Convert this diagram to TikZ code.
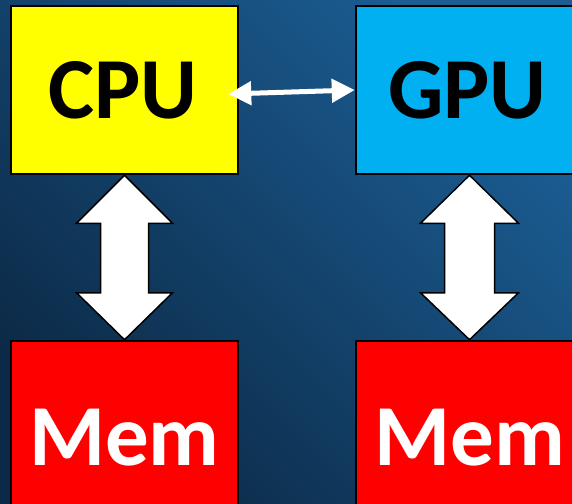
\documentclass[tikz,border=0pt]{standalone}
\usepackage{fontspec}
\setmainfont{Carlito}
\usetikzlibrary{calc,arrows.meta}
\definecolor{cpuyellow}{HTML}{FFFF00}
\definecolor{gpucyan}{HTML}{00B0F0}
\definecolor{memred}{HTML}{FF0000}
\definecolor{bgDark}{HTML}{0C2A47}
\definecolor{bgMid}{HTML}{133E66}
\definecolor{bgLight}{HTML}{1B5D93}
\tikzset{
  unitbox/.style={draw=black, line width=2.5pt, minimum width=227pt, minimum height=168pt, inner sep=0pt},
  bigtext/.style={font=\bfseries\fontsize{87}{90}\selectfont, inner sep=0pt, anchor=base},
  bigarrow/.style={fill=white, draw=black, line width=1.5pt, line join=miter},
  smallarrow/.style={draw=white, line width=5pt, {Triangle[length=23pt,width=23pt]}-{Triangle[length=23pt,width=23pt]}}
}
\begin{document}
\begin{tikzpicture}[x=1pt,y=-1pt]
\useasboundingbox (0,0) rectangle (572,503);
\clip (0,0) rectangle (572,503);
\shade[top color=bgDark, middle color=bgMid, bottom color=bgLight, shading angle=135] (0,0) rectangle (572,503);
\node[unitbox, fill=cpuyellow] (cpu) at (124.5,90) {};
\node[unitbox, fill=gpucyan] (gpu) at (469.5,90) {};
\node[unitbox, fill=memred] (mem1) at (124.5,425) {};
\node[unitbox, fill=memred] (mem2) at (469.5,425) {};
\node[bigtext, text=black] (cputxt) at (123,118) {CPU};
\node[bigtext, text=black] (gputxt) at (467.5,118) {GPU};
\node[bigtext, text=white] (mem1txt) at (124.5,465) {Mem};
\node[bigtext, text=white] (mem2txt) at (470,465) {Mem};
% big double arrows
\draw[bigarrow] (cpu.south) -- ($(cpu.south)+(48,48)$) -- ($(cpu.south)+(24,48)$)
  -- ($(mem1.north)+(24,-47)$) -- ($(mem1.north)+(48,-47)$) -- (mem1.north)
  -- ($(mem1.north)+(-48,-47)$) -- ($(mem1.north)+(-24,-47)$)
  -- ($(cpu.south)+(-24,48)$) -- ($(cpu.south)+(-48,48)$) -- cycle;
\draw[bigarrow] (gpu.south) -- ($(gpu.south)+(49,48)$) -- ($(gpu.south)+(25,48)$)
  -- ($(mem2.north)+(25,-47)$) -- ($(mem2.north)+(49,-47)$) -- (mem2.north)
  -- ($(mem2.north)+(-49,-47)$) -- ($(mem2.north)+(-25,-47)$)
  -- ($(gpu.south)+(-25,48)$) -- ($(gpu.south)+(-49,48)$) -- cycle;
% small double arrow
\draw[smallarrow] ($(cpu.east)+(-11,4)$) -- (gpu.west);
\end{tikzpicture}
\end{document}
